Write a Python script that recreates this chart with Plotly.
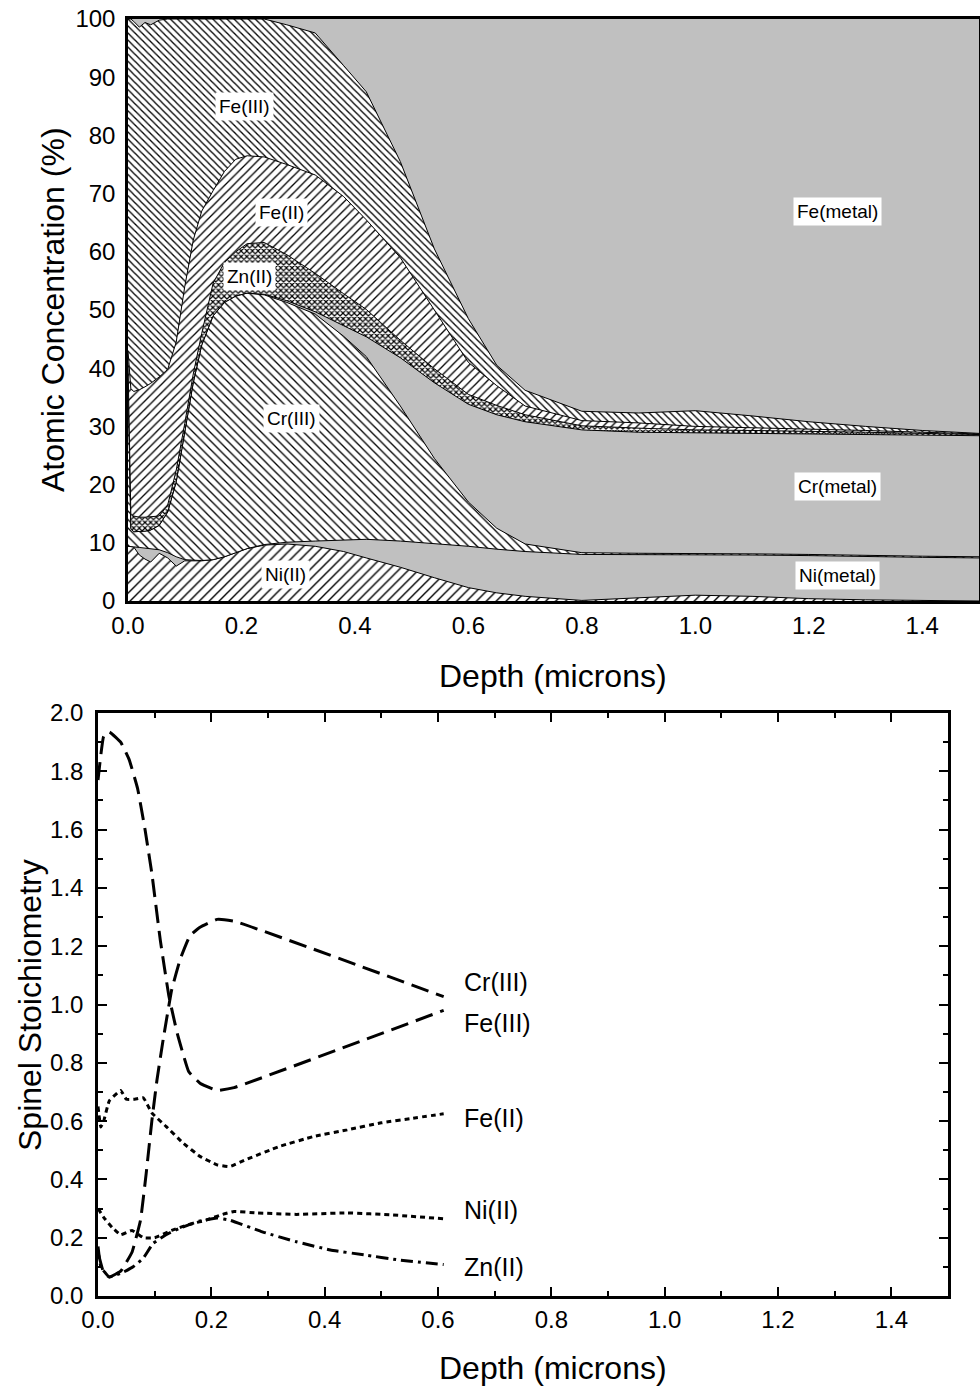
import plotly.graph_objects as go

# ---------------- Top panel: cumulative atomic concentration (%) boundaries ----------------
depth = [0, 0.005, 0.01, 0.02, 0.03, 0.04, 0.055, 0.07, 0.085, 0.1, 0.115, 0.13, 0.15, 0.17,
         0.19, 0.21, 0.24, 0.28, 0.33, 0.38, 0.42, 0.48, 0.54, 0.6, 0.65, 0.7, 0.8, 0.9, 1.0,
         1.1, 1.2, 1.3, 1.4, 1.5]

# top of Ni(II) layer
ni2_top = [9.4, 9.4, 9.3, 7.9, 7.2, 6.7, 8.2, 7.4, 6.0, 6.9, 6.9, 6.9, 7.1, 7.6,
           8.3, 9.0, 9.6, 9.8, 9.4, 8.5, 7.4, 5.8, 4.0, 2.3, 1.4, 0.8, 0.1, 0.6, 1.0,
           0.8, 0.4, 0.2, 0.1, 0.0]
# top of Ni(metal) layer
ni_metal_top = [9.4, 9.4, 9.3, 9.2, 9.1, 9.0, 8.8, 8.3, 7.6, 7.1, 7.0, 6.95, 7.1, 7.6,
                8.3, 9.0, 9.7, 10.1, 10.3, 10.5, 10.6, 10.3, 9.9, 9.4, 8.9, 8.5, 8.0, 8.0, 8.0,
                7.9, 7.8, 7.6, 7.5, 7.4]
# top of Cr(III) layer
cr3_top = [40.0, 12.5, 11.9, 11.9, 12.0, 12.2, 13.0, 15.3, 20.5, 29.0, 37.5, 44.0, 49.0, 51.3,
           52.4, 52.9, 52.6, 51.3, 49.3, 45.5, 42.0, 33.5, 24.5, 17.0, 12.5, 9.8, 8.3, 8.2, 8.2,
           8.1, 8.0, 7.8, 7.7, 7.6]
# top of Cr(metal) layer
cr_metal_top = [40.0, 12.5, 11.9, 11.9, 12.0, 12.2, 13.0, 15.3, 20.5, 29.0, 37.5, 44.0, 49.0, 51.3,
                52.4, 52.9, 52.7, 51.6, 49.7, 47.3, 45.4, 41.8, 37.5, 33.8, 32.0, 30.8, 29.4, 29.0, 28.9,
                28.8, 28.7, 28.6, 28.5, 28.4]
# top of Zn(II) layer
zn2_top = [41.0, 15.0, 14.6, 14.4, 14.4, 14.5, 14.6, 16.5, 22.5, 30.5, 39.0, 46.0, 54.6, 58.2,
           60.0, 61.4, 61.6, 59.5, 56.3, 52.8, 50.1, 44.8, 39.9, 35.5, 33.6, 32.0, 30.1, 29.7, 29.4,
           29.3, 29.2, 29.0, 28.8, 28.6]
# top of Fe(II) layer
fe2_top = [43.0, 36.5, 36.0, 36.3, 36.8, 37.4, 38.5, 39.8, 44.5, 54.0, 62.0, 67.0, 70.5, 73.8,
           75.9, 76.5, 76.3, 75.0, 73.2, 69.5, 65.5, 59.0, 50.0, 41.0, 37.0, 33.5, 31.0, 30.6, 30.0,
           29.8, 29.6, 29.3, 29.0, 28.7]
# top of Fe(III) layer (above it: Fe(metal) up to 100 %)
fe3_top = [100, 100, 99.6, 98.6, 99.4, 99.0, 99.8, 100, 100, 100, 100, 100, 100, 100,
           100, 100, 100, 99.0, 97.6, 92.0, 87.5, 75.5, 60.5, 48.5, 40.5, 36.2, 32.6, 32.3, 32.7,
           31.8, 30.8, 30.0, 29.3, 28.8]

top_labels = ["Fe(III)", "Fe(II)", "Zn(II)", "Cr(III)", "Ni(II)", "Fe(metal)", "Cr(metal)", "Ni(metal)"]
top_label_x = [0.206, 0.271, 0.215, 0.289, 0.277, 1.251, 1.251, 1.251]
top_label_y = [84.9, 66.8, 55.7, 31.3, 4.6, 67.0, 19.6, 4.3]

# ---------------- Bottom panel: spinel stoichiometry ----------------
fe3_x = [0, 0.01, 0.02, 0.04, 0.055, 0.07, 0.083, 0.095, 0.11, 0.125, 0.14, 0.16, 0.18, 0.21, 0.24, 0.61]
fe3_y = [1.77, 1.92, 1.935, 1.90, 1.84, 1.74, 1.60, 1.45, 1.22, 1.03, 0.90, 0.77, 0.73, 0.705, 0.715, 0.98]

cr3_x = [0, 0.01, 0.02, 0.04, 0.06, 0.075, 0.085, 0.095, 0.104, 0.115, 0.13, 0.145, 0.162, 0.18, 0.21, 0.24, 0.61]
cr3_y = [0.15, 0.08, 0.065, 0.085, 0.15, 0.26, 0.42, 0.60, 0.74, 0.88, 1.05, 1.155, 1.235, 1.265, 1.292, 1.286, 1.027]

fe2_x = [0, 0.005, 0.01, 0.02, 0.04, 0.05, 0.065, 0.08, 0.095, 0.12, 0.15, 0.18, 0.21, 0.233, 0.26, 0.32,
         0.38, 0.44, 0.5, 0.556, 0.61]
fe2_y = [0.65, 0.58, 0.60, 0.67, 0.705, 0.675, 0.675, 0.68, 0.628, 0.582, 0.525, 0.479, 0.45, 0.444, 0.467,
         0.513, 0.547, 0.57, 0.594, 0.61, 0.625]

ni2_x = [0, 0.01, 0.025, 0.04, 0.06, 0.08, 0.1, 0.13, 0.16, 0.19, 0.22, 0.24, 0.28, 0.35, 0.44, 0.52, 0.61]
ni2_y = [0.30, 0.27, 0.235, 0.21, 0.225, 0.20, 0.20, 0.225, 0.245, 0.26, 0.28, 0.29, 0.285, 0.28, 0.285, 0.278, 0.265]

zn2_x = [0, 0.005, 0.02, 0.045, 0.062, 0.08, 0.097, 0.12, 0.145, 0.175, 0.21, 0.233, 0.29, 0.35, 0.41, 0.47, 0.53, 0.61]
zn2_y = [0.17, 0.10, 0.065, 0.082, 0.10, 0.13, 0.18, 0.21, 0.233, 0.255, 0.268, 0.26, 0.22, 0.186, 0.158, 0.141,
         0.124, 0.108]

bottom_labels = ["Cr(III)", "Fe(III)", "Fe(II)", "Ni(II)", "Zn(II)"]
bottom_label_y = [1.076, 0.935, 0.612, 0.296, 0.10]

FONT = "Liberation Sans, Arial, sans-serif"
GRAY = "#c0c0c0"
W, H = 980, 1395

fig = go.Figure()


def band(y, pattern=None, size=6, solidity=0.15, fill="tonexty"):
    kw = dict(x=depth, y=y, mode="lines", line=dict(color="black", width=1),
              fill=fill, xaxis="x", yaxis="y", showlegend=False, hoverinfo="skip")
    if pattern is None:
        kw["fillcolor"] = GRAY
    else:
        kw["fillcolor"] = "white"
        kw["fillpattern"] = dict(shape=pattern, fgcolor="black", bgcolor="white",
                                 size=size, solidity=solidity, fillmode="replace")
    return go.Scatter(**kw)


fig.add_trace(band(ni2_top, "/", 7, 0.2, fill="tozeroy"))
fig.add_trace(band(ni_metal_top))
fig.add_trace(band(cr3_top, "\\", 6, 0.22))
fig.add_trace(band(cr_metal_top))
fig.add_trace(band(zn2_top, "x", 4, 0.5))
fig.add_trace(band(fe2_top, "/", 6, 0.22))
fig.add_trace(band(fe3_top, "\\", 5, 0.26))

# bottom lines
line_specs = [
    (fe3_x, fe3_y, "18px,8px"),
    (cr3_x, cr3_y, "18px,8px"),
    (fe2_x, fe2_y, "5px,4px"),
    (ni2_x, ni2_y, "5px,4px"),
    (zn2_x, zn2_y, "12px,5px,3px,5px"),
]
for xs, ys, dash in line_specs:
    fig.add_trace(go.Scatter(x=xs, y=ys, mode="lines", xaxis="x2", yaxis="y2",
                             line=dict(color="black", width=3, dash=dash, shape="spline", smoothing=0.3),
                             showlegend=False, hoverinfo="skip"))

annotations = []
for t, x, y in zip(top_labels, top_label_x, top_label_y):
    annotations.append(dict(x=x, y=y, xref="x", yref="y", text=t, showarrow=False,
                            xanchor="center", yanchor="middle",
                            font=dict(family=FONT, size=19, color="black"),
                            bgcolor="white", borderpad=3))
for t, y in zip(bottom_labels, bottom_label_y):
    annotations.append(dict(x=0.642, y=y, xref="x2", yref="y2", text=t, showarrow=False,
                            xanchor="left", yanchor="middle",
                            font=dict(family=FONT, size=25, color="black")))


def px(xp):
    return xp / W


def py(yp):
    return 1 - yp / H


title_font = dict(family=FONT, size=32, color="black")
annotations += [
    dict(x=px(553), y=py(676), xref="paper", yref="paper", text="Depth (microns)", showarrow=False,
         xanchor="center", yanchor="middle", font=title_font),
    dict(x=px(553), y=py(1368), xref="paper", yref="paper", text="Depth (microns)", showarrow=False,
         xanchor="center", yanchor="middle", font=title_font),
    dict(x=px(53), y=py(310), xref="paper", yref="paper", text="Atomic Concentration (%)", showarrow=False,
         xanchor="center", yanchor="middle", textangle=-90, font=title_font),
    dict(x=px(30), y=py(1005), xref="paper", yref="paper", text="Spinel Stoichiometry", showarrow=False,
         xanchor="center", yanchor="middle", textangle=-90, font=title_font),
]

tickfont = dict(family=FONT, size=24, color="black")

fig.update_layout(
    width=W, height=H, margin=dict(l=0, r=0, t=0, b=0, pad=0, autoexpand=False),
    paper_bgcolor="white", plot_bgcolor="white",
    font=dict(family=FONT, color="black"),
    annotations=annotations,
    xaxis=dict(domain=[px(128), px(979)], range=[0, 1.5], anchor="y", automargin=False,
               tickvals=[0, 0.2, 0.4, 0.6, 0.8, 1.0, 1.2, 1.4], tickformat=".1f",
               ticks="", showgrid=False, zeroline=False, showline=True, linecolor="black",
               linewidth=2.5, mirror=True, tickfont=tickfont, ticklabelstandoff=1),
    yaxis=dict(domain=[py(601), py(19)], range=[0, 100], anchor="x", automargin=False,
               tickvals=list(range(0, 101, 10)), ticks="", showgrid=False, zeroline=False,
               showline=True, linecolor="black", linewidth=2.5, mirror=True,
               tickfont=tickfont, ticklabelstandoff=5),
    xaxis2=dict(domain=[px(98), px(948)], range=[0, 1.5], anchor="y2", automargin=False,
                tickvals=[0, 0.2, 0.4, 0.6, 0.8, 1.0, 1.2, 1.4], tickformat=".1f",
                ticks="inside", ticklen=9, tickwidth=2, tickcolor="black",
                minor=dict(dtick=0.1, ticks="inside", ticklen=5, tickwidth=1.5, tickcolor="black"),
                showgrid=False, zeroline=False, showline=True, linecolor="black",
                linewidth=2.5, mirror="allticks", tickfont=tickfont, ticklabelstandoff=0),
    yaxis2=dict(domain=[py(1296), py(713)], range=[0, 2.0], anchor="x2", automargin=False,
                tickvals=[0, 0.2, 0.4, 0.6, 0.8, 1.0, 1.2, 1.4, 1.6, 1.8, 2.0], tickformat=".1f",
                ticks="inside", ticklen=9, tickwidth=2, tickcolor="black",
                minor=dict(dtick=0.1, ticks="inside", ticklen=5, tickwidth=1.5, tickcolor="black"),
                showgrid=False, zeroline=False, showline=True, linecolor="black",
                linewidth=2.5, mirror="allticks", tickfont=tickfont, ticklabelstandoff=7),
)

# Fe(metal): remainder above Fe(III) up to 100 %, drawn as the gray panel background
fig.add_shape(type="rect", xref="x", yref="y", x0=0, x1=1.5, y0=0, y1=100,
              fillcolor=GRAY, line=dict(width=0), layer="below")

fig.write_html("out.html")
